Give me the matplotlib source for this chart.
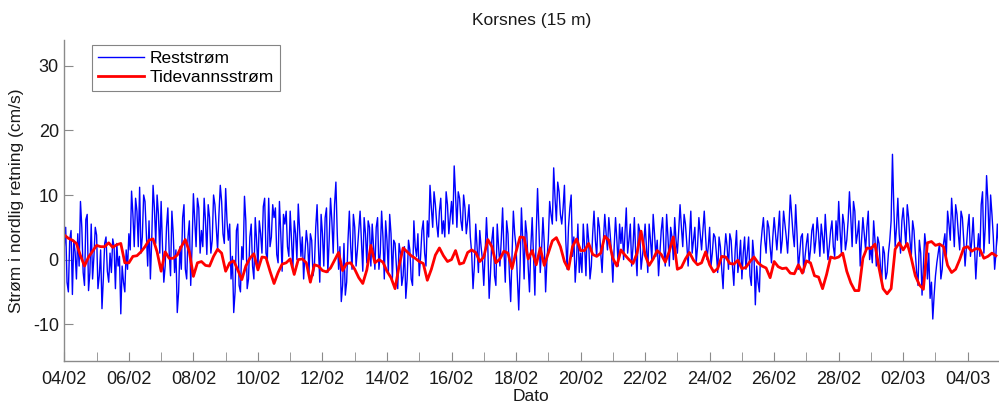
# %% -*- IMPORTS -*-
import pandas as pd
import matplotlib
matplotlib.use('Agg')
import matplotlib.pyplot as plt
import matplotlib.dates as mdates

# %% -*- FONT AND COLOUR SETTINGS -*-
plt.rcParams['font.family'] = ['Liberation Sans', 'DejaVu Sans']
plt.rcParams['axes.unicode_minus'] = False
text_colour = '#1a1a1a'
axis_colour = '#8a8a8a'
rest_colour = '#0000ff'
tide_colour = '#ff0000'

# %% -*- DATA (cm/s) -*-
start_date = '2013-02-04'
end_date = '2013-03-04 22:30'

# residual current, hourly (one row per day)
rest_values = [
    2.0, 5.0, -3.5, -5.0, 3.1, 4.5, -5.4, 3.0, 1.2, -3.0, 4.0, -1.0, 9.0, 5.0, -2.0, -4.0, 6.2, 7.0, -4.8, -2.0, 5.5, -3.0, 0.5, 5.0,
    3.8, -4.5, -2.5, 1.5, -7.6, -3.0, 2.5, 3.5, -1.8, -3.5, 1.0, -2.0, 3.2, 2.0, -4.5, 2.5, -1.0, 0.5, -8.4, -1.0, -3.5, -5.0, 1.5, -1.5,
    4.0, 1.5, 10.6, 7.0, 2.0, 9.5, 7.5, 2.0, 11.2, 1.0, 3.5, 10.0, 9.0, 4.0, -1.0, 6.0, -3.0, 3.0, 11.5, 8.0, 2.5, 10.0, 7.0, 1.0,
    9.0, 2.0, -3.5, -1.0, 5.0, 8.0, 1.0, -2.5, 7.5, 4.0, -2.0, 1.5, -8.2, -5.0, 2.0, -1.5, 6.5, 8.5, -1.5, -3.0, 3.5, 6.0, -4.0, 2.0,
    10.2, 6.0, 2.0, 9.5, 8.0, 1.0, 4.5, 2.0, 9.5, 6.0, 0.8, 8.5, 6.5, 1.0, 3.0, 10.0, 8.5, 5.0, 1.5, 7.0, 11.5, 9.0, 4.0, 2.5,
    11.0, 6.0, 3.0, 5.5, -3.0, 0.5, -8.2, -5.0, 4.5, 5.5, -4.0, -5.0, 2.0, 0.0, 9.8, 6.0, -4.5, -3.0, 3.5, 5.5, -1.0, -3.0, 6.5, 3.0,
    -1.5, 6.0, 4.0, 1.0, 8.2, 9.5, 1.0, 0.0, 9.5, 2.0, 3.5, 8.5, 6.5, 8.0, 0.8, -0.5, 9.0, 4.0, -1.8, 7.0, 5.5, 7.5, 2.0, 0.5,
    7.5, 3.0, -1.5, 6.0, 4.0, 0.0, 8.6, 4.5, 0.5, 3.5, -3.0, 1.0, 4.5, 2.5, -2.0, 4.0, 3.0, -2.5, -1.0, 5.0, 8.5, 2.0, -3.5, 7.0,
    4.0, -1.0, 6.5, 8.0, -2.0, 3.0, 9.5, 6.0, 1.0, 8.5, 12.0, 4.0, -1.5, 2.0, -6.5, -4.0, 2.5, -5.5, -3.5, 3.0, 7.5, 2.0, -1.5, 7.0,
    5.0, -1.0, 1.5, 4.5, 7.5, 3.0, -1.8, 6.5, 4.0, -0.5, 6.0, 5.0, -1.0, 5.5, 2.0, -1.5, 5.0, 6.5, -1.5, 1.0, 7.5, 3.5, -3.0, 6.0,
    3.0, -2.0, 7.0, 4.0, -3.0, 3.0, 2.5, -1.0, -4.5, 2.5, 1.0, -4.0, -2.5, 2.0, -6.0, -3.0, 3.0, 1.5, -3.0, -4.0, 6.0, 2.0, 0.5, 4.0,
    -2.5, 0.5, 4.5, 6.0, 1.0, -1.0, 6.0, 3.5, 11.5, 8.0, 5.0, 10.5, 8.5, 5.5, 3.5, 7.5, 9.5, 4.0, 6.0, 3.5, 10.5, 8.5, 4.0, 6.5,
    9.0, 5.5, 14.5, 10.0, 5.0, 10.5, 9.5, 6.0, 4.5, 10.0, 8.0, 4.0, 6.0, 8.5, 3.5, 1.0, -4.5, -1.0, 5.5, 2.0, -2.0, 4.5, 2.0, 0.0,
    -4.0, 1.0, 6.5, 2.0, -6.0, -2.0, 3.0, 5.0, -2.5, -4.0, 5.5, 2.0, -1.0, 3.0, 8.0, 1.5, -3.5, 6.0, 4.0, -2.0, -6.5, 0.5, 7.5, 4.0,
    2.0, -3.0, -7.8, -1.0, 8.0, 3.0, -3.0, 6.0, 4.0, -1.0, -5.0, 2.0, 6.5, 0.5, -5.5, 4.0, 11.0, 5.0, -2.0, 1.5, 6.5, 2.5, -5.0, 0.0,
    3.0, 9.0, 7.0, 5.5, 14.2, 9.5, 6.0, 12.0, 10.5, 7.0, 5.5, 8.0, 11.5, 3.0, -1.5, 5.0, 8.0, 10.0, 0.5, 3.5, -3.5, 0.0, 5.5, -2.0,
    1.0, -2.0, 5.5, 2.0, -2.5, 5.5, 3.0, -3.0, -1.0, 4.0, 7.5, 3.0, 0.5, 6.5, 5.0, 1.0, -2.0, 3.0, 7.0, 4.0, 1.5, 6.5, 4.0, 1.0,
    -3.5, 2.0, 6.5, 3.0, -1.0, 5.5, 2.5, 5.0, 0.0, 4.0, 8.0, 1.0, 3.0, 5.5, -1.0, 2.0, 6.5, 1.0, -2.5, 5.5, 4.5, -1.5, 0.5, 2.5,
    5.5, 2.0, -2.0, 5.5, 3.0, 0.0, 7.0, 4.0, 0.5, 3.0, -2.5, 1.0, 4.5, 6.5, 1.5, -1.0, 7.0, 3.5, -1.0, 5.0, 3.5, 0.0, 6.5, 3.0,
    1.0, 4.5, 8.5, 5.0, 2.0, 7.0, 5.5, 2.5, -1.0, 3.5, 7.5, 1.0, 3.0, 5.0, -0.5, 2.0, 6.5, 4.0, 1.5, 4.5, 7.5, 3.5, 0.0, 2.0,
    5.0, -1.0, 1.0, 4.0, 3.5, 1.0, -2.0, 3.5, 2.0, -1.5, -4.5, 1.0, 4.0, 2.0, -1.5, 4.0, 3.0, -1.0, -4.0, 1.5, 4.5, -2.0, 0.0, 3.0,
    -3.0, 1.0, 3.5, -1.5, 1.0, 3.5, -2.5, -4.0, 3.0, 0.5, -7.0, -1.0, -3.5, -5.0, 2.0, 4.5, 6.5, 3.0, 1.0, 6.0, 5.0, 2.0, -0.5, 3.5,
    6.5, 4.0, 1.5, 4.5, 7.5, 1.0, 3.0, 7.5, 5.5, 3.5, 1.0, 5.0, 10.0, 7.0, 4.0, 2.0, 8.5, 4.0, -1.5, 1.0, 3.5, 4.0, -2.0, 0.5,
    2.5, 4.0, -0.5, 1.5, 4.5, 5.5, 1.0, 3.0, 6.5, 4.0, 0.5, 5.5, 3.5, 1.0, 7.0, 3.5, 0.0, 2.0, 4.5, 6.0, 2.0, 0.5, 6.0, 3.0,
    9.0, 4.5, 1.0, 7.0, 5.5, 1.5, 3.0, 6.0, 10.5, 6.5, 2.0, 9.0, 7.5, 2.5, 4.0, 6.0, -1.0, 3.0, 6.5, 4.0, 1.5, 5.0, 7.5, 0.0,
    2.0, -0.5, 6.0, 3.0, -1.0, 3.5, 2.5, -1.0, -3.5, 2.0, 1.0, -3.0, -2.0, 1.0, 3.0, 6.0, 16.3, 8.0, 2.0, 5.0, 9.5, 4.0, 1.0, 6.0,
    8.0, 5.0, 2.0, 8.5, 6.5, 3.0, 0.5, 6.0, 4.5, 1.0, -2.0, -4.0, 3.0, 1.0, -5.5, -1.0, 4.0, 2.0, -3.0, 1.0, -6.0, -3.5, -9.2, -5.5,
    -2.5, -0.5, 1.0, 2.5, -3.0, -1.5, 2.5, 4.0, 0.0, 7.5, 5.5, 3.0, 9.5, 6.0, 2.0, 8.5, 7.0, 4.0, 1.5, 7.5, 6.5, 3.0, -1.0, 2.0,
    5.0, 7.0, 0.5, 3.0, 6.5, 2.0, -3.0, 1.0, 4.0, 0.5, 8.5, 10.5, 1.0, 5.0, 13.0, 9.0, 2.5, 10.0, 7.0, 3.5, -1.5, 1.0, 5.5, 2.0,
]

# tidal current, one value every 3 hours (one row per day)
tide_values = [
    3.8, 3.3, 3.0, 2.5, 0.6, -1.0, 0.4, 1.3,
    2.2, 2.0, 2.0, 2.6, 1.9, 2.3, 2.5, -0.5,
    -0.5, 0.5, 0.6, 1.2, 2.0, 3.0, 3.2, 1.2,
    -1.8, 1.2, 0.2, 0.2, 0.7, 2.0, 3.1, 1.2,
    -2.6, -0.5, -0.3, -0.9, -1.0, 0.5, 1.6, 1.0,
    -1.8, -0.5, -0.2, -1.6, -3.1, -1.0, 0.2, 0.9,
    -1.6, 0.4, 0.3, -1.8, -3.7, -2.0, -0.7, -0.5,
    0.1, -2.3, 0.0, 0.1, -0.5, -3.5, -0.8, -1.0,
    -1.7, -1.9, -1.3, -0.1, 1.1, -1.7, -0.6, -0.5,
    -1.5, -2.8, -3.7, -1.6, 2.2, -0.5, 0.0, -0.4,
    -1.8, -2.8, -4.5, -1.0, 1.8, 1.2, 0.6, 0.2,
    -0.3, -0.6, -3.2, -1.5, 0.7, 1.8, 0.6, -0.3,
    0.0, 1.4, -0.7, -0.5, 1.1, 1.5, 1.1, -0.3,
    0.4, 3.1, 2.0, -0.5, 0.1, 1.3, 1.0, -1.4,
    1.2, 3.5, 3.4, 0.1, 1.4, -0.8, 1.8, -0.9,
    1.0, 2.9, 3.4, 2.0, -0.3, -1.5, 2.0, 3.2,
    1.4, 1.4, 2.5, 0.8, 0.5, 1.0, 3.6, 3.0,
    0.2, -1.0, 1.5, 0.7, 0.0, -0.6, 1.0, 4.4,
    0.7, -0.9, 0.1, 1.4, 0.8, -0.4, 1.3, 3.5,
    -1.5, -1.2, 0.1, 1.1, -0.1, -0.8, -0.5, 1.2,
    -0.8, -1.9, -1.4, 0.5, 0.4, -0.6, -0.7, -0.1,
    -1.4, -1.2, -0.3, 0.4, -0.5, -1.0, -1.3, -2.8,
    -0.3, -1.1, -1.4, -1.3, -2.1, -2.2, -0.8, -2.1,
    -0.2, -0.5, -2.5, -2.7, -4.5, -2.3, 0.4, 0.2,
    0.4, 1.0, -1.8, -3.6, -4.8, -4.8, 0.2, 1.8,
    1.7, 2.4, -1.3, -4.5, -5.3, -4.5, 1.6, 2.6,
    1.5, 2.5, 0.2, -2.5, -3.9, -4.6, 2.6, 2.8,
    2.2, 2.4, 2.0, -0.9, -2.0, -1.5, 0.0, 1.8,
    2.0, 1.3, 1.7, 1.6, 0.2, 0.5, 1.0, 0.6,
]

rest_times = pd.date_range(start_date, periods=len(rest_values), freq='1h')
tide_times = pd.date_range(start_date, periods=len(tide_values), freq='3h')

# %% -*- PLOT VIZ -*-
fig = plt.figure(figsize=(9.99, 4.08), dpi=100)
ax = fig.add_axes([0.0644, 0.1152, 0.9346, 0.7868])

ax.plot(rest_times, rest_values, color=rest_colour, linewidth=1.0,
        label='Reststrøm')
ax.plot(tide_times, tide_values, color=tide_colour, linewidth=2.0,
        label='Tidevannsstrøm')

ax.set_xlim(pd.Timestamp(start_date), pd.Timestamp(end_date))
ax.set_ylim(-15.7, 34)
ax.set_yticks([-10, 0, 10, 20, 30])

# every day ticked, label every second day
ax.xaxis.set_major_locator(mdates.DayLocator(bymonthday=range(2, 29, 2)))
ax.xaxis.set_minor_locator(mdates.DayLocator())
ax.xaxis.set_major_formatter(mdates.DateFormatter('%d/%m'))

for side in ['top', 'right']:
    ax.spines[side].set_visible(False)
for side in ['left', 'bottom']:
    ax.spines[side].set_color(axis_colour)
    ax.spines[side].set_linewidth(1.0)

ax.tick_params(axis='both', which='both', direction='in', length=6.5,
               color=axis_colour, labelcolor=text_colour, labelsize=13)
ax.tick_params(axis='x', pad=7)
ax.tick_params(axis='y', pad=4)

ax.set_title('Korsnes (15 m)', fontsize=12.5, color=text_colour, pad=11)
ax.set_xlabel('Dato', fontsize=12.5, color=text_colour, labelpad=1)
ax.set_ylabel('Strøm i nordlig retning (cm/s)', fontsize=12.5,
              color=text_colour, labelpad=6)

leg = ax.legend(loc='upper left', bbox_to_anchor=(0.03, 0.985),
                borderaxespad=0, fontsize=12.5, frameon=True, fancybox=False,
                handlelength=2.65, handletextpad=0.3, borderpad=0.35,
                labelspacing=0.2)
leg.get_frame().set_edgecolor('#666666')
leg.get_frame().set_linewidth(0.8)

plt.savefig('out.png', dpi=100, facecolor='white')
